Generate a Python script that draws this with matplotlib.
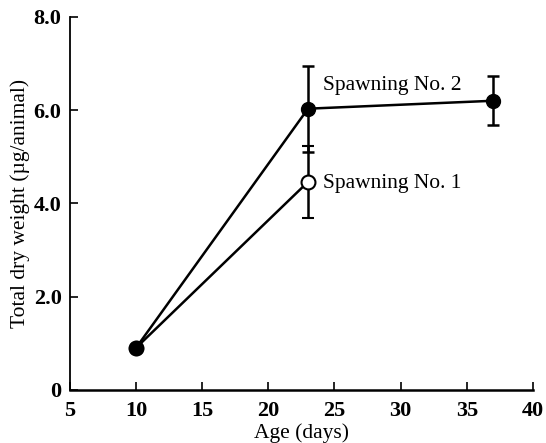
import matplotlib
matplotlib.use('Agg')
import matplotlib.pyplot as plt

plt.rcParams['font.family'] = ['Liberation Serif', 'DejaVu Serif']

# Age (days) and mean total dry weight per animal
age_1 = [10, 23]
weight_1 = [0.9, 4.46]
err_1 = [0.0, 0.77]

age_2 = [10, 23, 37]
weight_2 = [0.9, 6.03, 6.2]
err_2 = [0.0, 0.92, 0.53]

xticks = [5, 10, 15, 20, 25, 30, 35, 40]
yticks = [0, 2, 4, 6, 8]
ytick_labels = ['0', '2.0', '4.0', '6.0', '8.0']

fig = plt.figure(figsize=(5.46, 4.43), dpi=100)
ax = fig.add_axes([0.128, 0.12, 0.848, 0.842])

ax.errorbar(age_1, weight_1, yerr=err_1, color='black', lw=1.8,
            marker='o', ms=10, mfc='white', mec='black', mew=1.5,
            capsize=4.5, capthick=1.8, elinewidth=1.8, zorder=2)
ax.errorbar(age_2, weight_2, yerr=err_2, color='black', lw=1.8,
            marker='o', ms=10, mfc='black', mec='black',
            capsize=4.5, capthick=1.8, elinewidth=1.8, zorder=3)

ax.text(24.1, 6.52, 'Spawning No. 2', fontsize=15.5, va='center', ha='left')
ax.text(24.1, 4.42, 'Spawning No. 1', fontsize=15.5, va='center', ha='left')

ax.set_xlim(5, 40)
ax.set_ylim(0, 8)
ax.set_xticks(xticks)
ax.set_yticks(yticks)
ax.set_yticklabels(ytick_labels)
for lab in ax.get_xticklabels() + ax.get_yticklabels():
    lab.set_fontweight('bold')
    lab.set_fontsize(16)
ax.tick_params(direction='in', length=6, width=1.2)
ax.tick_params(axis='x', pad=8)
ax.tick_params(axis='y', pad=6)

ax.spines['top'].set_visible(False)
ax.spines['right'].set_visible(False)
ax.spines['left'].set_linewidth(1.3)
ax.spines['bottom'].set_linewidth(1.8)

ax.set_xlabel('Age (days)', fontsize=15.5, labelpad=2)
ax.set_ylabel('Total dry weight (\u00b5g/animal)', fontsize=15.5, labelpad=3)

fig.savefig('out.png', dpi=100)
